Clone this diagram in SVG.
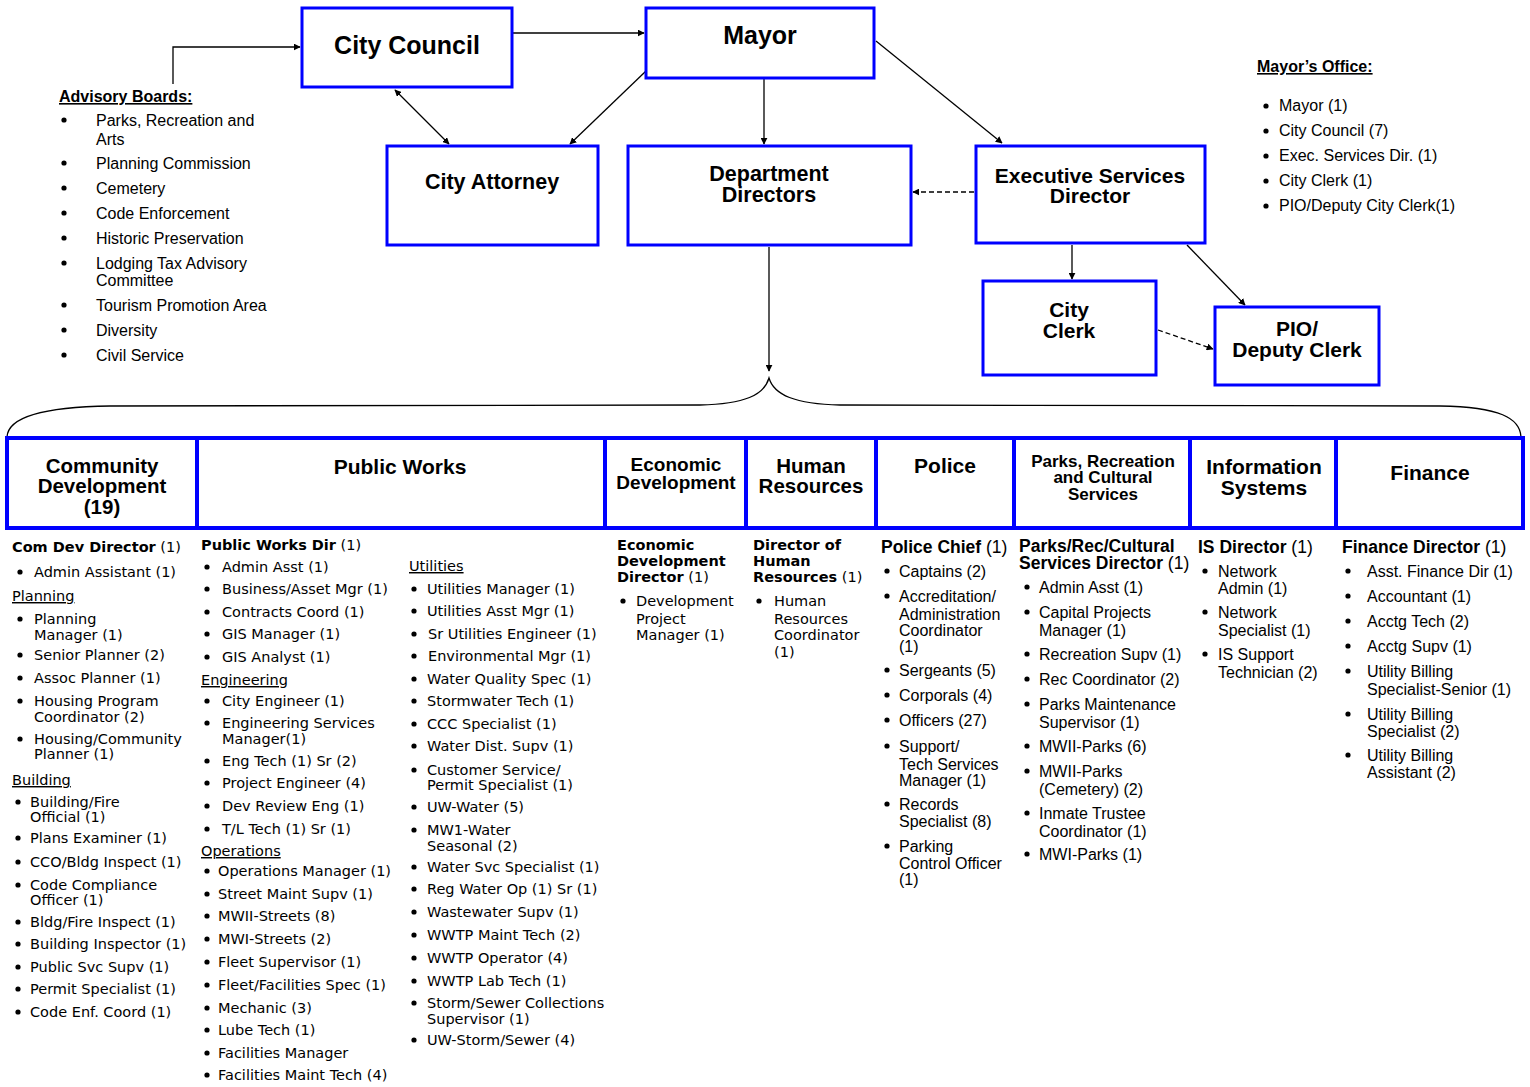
<svg xmlns="http://www.w3.org/2000/svg" width="1530" height="1087" viewBox="0 0 1530 1087">
<defs>
<marker id="ah" viewBox="0 0 10 10" refX="9" refY="5" markerWidth="7" markerHeight="7" orient="auto-start-reverse" markerUnits="userSpaceOnUse"><path d="M0,0 L10,5 L0,10 z" fill="#000"/></marker>
<style>
.box{fill:#fff;stroke:#0000ff;stroke-width:3}
.dept{fill:#fff;stroke:#0000ff;stroke-width:4}
.tb{font-family:"Liberation Sans",Arial,sans-serif;font-weight:bold;fill:#000;text-anchor:middle}
.v{font-family:"DejaVu Sans",Verdana,sans-serif;font-size:14.5px;fill:#000}
.vb{font-family:"DejaVu Sans",Verdana,sans-serif;font-size:14.5px;font-weight:bold;fill:#000}
.t{font-family:"Liberation Sans",Arial,sans-serif;font-size:16px;fill:#000}
.tbh{font-family:"Liberation Sans",Arial,sans-serif;font-size:17.5px;font-weight:bold;fill:#000}
.n{font-weight:normal}
.u{text-decoration:underline}
.bl{fill:#000}
.ln{fill:none;stroke:#000;stroke-width:1.3}
.dash{stroke-dasharray:5,3}
</style>
</defs>

<g id="connectors">
<path class="ln" d="M173,84 V47 H300" marker-end="url(#ah)"/>
<path class="ln" d="M512,33 H644" marker-end="url(#ah)"/>
<path class="ln" d="M395,90 L449,144" marker-start="url(#ah)" marker-end="url(#ah)"/>
<path class="ln" d="M646,71 L570,144" marker-end="url(#ah)"/>
<path class="ln" d="M764,79 V144" marker-end="url(#ah)"/>
<path class="ln" d="M876,41 L1002,143" marker-end="url(#ah)"/>
<path class="ln dash" d="M974,192 H913" marker-end="url(#ah)"/>
<path class="ln" d="M1072,245 V279" marker-end="url(#ah)"/>
<path class="ln" d="M1187,245 L1245,305" marker-end="url(#ah)"/>
<path class="ln dash" d="M1158,330 L1213,349" marker-end="url(#ah)"/>
<path class="ln" d="M769,247 V371" marker-end="url(#ah)"/>
<path class="ln" d="M7,437 C8,418 40,407 110,406 L700,405 C745,404 764,395 769,378 C774,395 795,404 840,405 L1440,406 C1500,407 1520,418 1521,437"/>
</g>

<g id="advisory-boards">
<text class="t u" x="59" y="102" font-weight="bold">Advisory Boards:</text>
<circle class="bl" cx="64" cy="120" r="2.6"/><text class="t" x="96" y="126">Parks, Recreation and</text><text class="t" x="96" y="145">Arts</text>
<circle class="bl" cx="64" cy="163" r="2.6"/><text class="t" x="96" y="169">Planning Commission</text>
<circle class="bl" cx="64" cy="188" r="2.6"/><text class="t" x="96" y="194">Cemetery</text>
<circle class="bl" cx="64" cy="213" r="2.6"/><text class="t" x="96" y="219">Code Enforcement</text>
<circle class="bl" cx="64" cy="238" r="2.6"/><text class="t" x="96" y="244">Historic Preservation</text>
<circle class="bl" cx="64" cy="263" r="2.6"/><text class="t" x="96" y="269">Lodging Tax Advisory</text><text class="t" x="96" y="286">Committee</text>
<circle class="bl" cx="64" cy="305" r="2.6"/><text class="t" x="96" y="311">Tourism Promotion Area</text>
<circle class="bl" cx="64" cy="330" r="2.6"/><text class="t" x="96" y="336">Diversity</text>
<circle class="bl" cx="64" cy="355" r="2.6"/><text class="t" x="96" y="361">Civil Service</text>
</g>

<g id="city-council"><rect class="box" x="302" y="8" width="210" height="79"/><text class="tb" x="407" y="54" font-size="25">City Council</text></g>
<g id="mayor"><rect class="box" x="646" y="8" width="228" height="70"/><text class="tb" x="760" y="44" font-size="25">Mayor</text></g>
<g id="city-attorney"><rect class="box" x="387" y="146" width="211" height="99"/><text class="tb" x="492" y="189" font-size="21.5">City Attorney</text></g>
<g id="department-directors"><rect class="box" x="628" y="146" width="283" height="99"/><text class="tb" x="769" y="181" font-size="21.5">Department</text><text class="tb" x="769" y="202" font-size="21.5">Directors</text></g>
<g id="executive-services-director"><rect class="box" x="976" y="146" width="229" height="97"/><text class="tb" x="1090" y="183" font-size="21">Executive Services</text><text class="tb" x="1090" y="203" font-size="21">Director</text></g>
<g id="city-clerk"><rect class="box" x="983" y="281" width="173" height="94"/><text class="tb" x="1069" y="317" font-size="21">City</text><text class="tb" x="1069" y="338" font-size="21">Clerk</text></g>
<g id="pio-deputy-clerk"><rect class="box" x="1215" y="307" width="164" height="78"/><text class="tb" x="1297" y="336" font-size="21">PIO/</text><text class="tb" x="1297" y="357" font-size="21">Deputy Clerk</text></g>

<g id="mayors-office">
<text class="t u" x="1257" y="72" font-weight="bold">Mayor’s Office:</text>
<circle class="bl" cx="1266" cy="106" r="2.6"/><text class="t" x="1279" y="111">Mayor (1)</text>
<circle class="bl" cx="1266" cy="131" r="2.6"/><text class="t" x="1279" y="136">City Council (7)</text>
<circle class="bl" cx="1266" cy="156" r="2.6"/><text class="t" x="1279" y="161">Exec. Services Dir. (1)</text>
<circle class="bl" cx="1266" cy="181" r="2.6"/><text class="t" x="1279" y="186">City Clerk (1)</text>
<circle class="bl" cx="1266" cy="206" r="2.6"/><text class="t" x="1279" y="211">PIO/Deputy City Clerk(1)</text>
</g>

<g id="departments-row">
<rect class="dept" x="7" y="438" width="1516" height="90"/>
<path fill="none" stroke="#0000ff" stroke-width="4" d="M197,438 V528 M605,438 V528 M746,438 V528 M876,438 V528 M1014,438 V528 M1190,438 V528 M1336,438 V528"/>
</g>

<g id="community-development">
<text class="tb" x="102" y="473" font-size="20.5">Community</text><text class="tb" x="102" y="493" font-size="20.5">Development</text><text class="tb" x="102" y="514" font-size="20.5">(19)</text>
<text class="vb" x="12" y="552">Com Dev Director<tspan class="n"> (1)</tspan></text>
<circle class="bl" cx="20" cy="572" r="2.6"/><text class="v" x="34" y="577">Admin Assistant (1)</text>
<text class="v u" x="12" y="601">Planning</text>
<circle class="bl" cx="20" cy="619" r="2.6"/><text class="v" x="34" y="624">Planning</text><text class="v" x="34" y="640">Manager (1)</text>
<circle class="bl" cx="20" cy="655" r="2.6"/><text class="v" x="34" y="660">Senior Planner (2)</text>
<circle class="bl" cx="20" cy="678" r="2.6"/><text class="v" x="34" y="683">Assoc Planner (1)</text>
<circle class="bl" cx="20" cy="701" r="2.6"/><text class="v" x="34" y="706">Housing Program</text><text class="v" x="34" y="722">Coordinator (2)</text>
<circle class="bl" cx="20" cy="739" r="2.6"/><text class="v" x="34" y="744">Housing/Community</text><text class="v" x="34" y="759">Planner (1)</text>
<text class="v u" x="12" y="785">Building</text>
<circle class="bl" cx="18" cy="802" r="2.6"/><text class="v" x="30" y="807">Building/Fire</text><text class="v" x="30" y="822">Official (1)</text>
<circle class="bl" cx="18" cy="838" r="2.6"/><text class="v" x="30" y="843">Plans Examiner (1)</text>
<circle class="bl" cx="18" cy="862" r="2.6"/><text class="v" x="30" y="867">CCO/Bldg Inspect (1)</text>
<circle class="bl" cx="18" cy="885" r="2.6"/><text class="v" x="30" y="890">Code Compliance</text><text class="v" x="30" y="905">Officer (1)</text>
<circle class="bl" cx="18" cy="922" r="2.6"/><text class="v" x="30" y="927">Bldg/Fire Inspect (1)</text>
<circle class="bl" cx="18" cy="944" r="2.6"/><text class="v" x="30" y="949">Building Inspector (1)</text>
<circle class="bl" cx="18" cy="967" r="2.6"/><text class="v" x="30" y="972">Public Svc Supv (1)</text>
<circle class="bl" cx="18" cy="989" r="2.6"/><text class="v" x="30" y="994">Permit Specialist (1)</text>
<circle class="bl" cx="18" cy="1012" r="2.6"/><text class="v" x="30" y="1017">Code Enf. Coord (1)</text>
</g>

<g id="public-works">
<text class="tb" x="400" y="474" font-size="21">Public Works</text>
<text class="vb" x="201" y="550">Public Works Dir<tspan class="n"> (1)</tspan></text>
<circle class="bl" cx="207" cy="567" r="2.6"/><text class="v" x="222" y="572">Admin Asst (1)</text>
<circle class="bl" cx="207" cy="589" r="2.6"/><text class="v" x="222" y="594">Business/Asset Mgr (1)</text>
<circle class="bl" cx="207" cy="612" r="2.6"/><text class="v" x="222" y="617">Contracts Coord (1)</text>
<circle class="bl" cx="207" cy="634" r="2.6"/><text class="v" x="222" y="639">GIS Manager (1)</text>
<circle class="bl" cx="207" cy="657" r="2.6"/><text class="v" x="222" y="662">GIS Analyst (1)</text>
<text class="v u" x="201" y="685">Engineering</text>
<circle class="bl" cx="207" cy="701" r="2.6"/><text class="v" x="222" y="706">City Engineer (1)</text>
<circle class="bl" cx="207" cy="723" r="2.6"/><text class="v" x="222" y="728">Engineering Services</text><text class="v" x="222" y="744">Manager(1)</text>
<circle class="bl" cx="207" cy="761" r="2.6"/><text class="v" x="222" y="766">Eng Tech (1) Sr (2)</text>
<circle class="bl" cx="207" cy="783" r="2.6"/><text class="v" x="222" y="788">Project Engineer (4)</text>
<circle class="bl" cx="207" cy="806" r="2.6"/><text class="v" x="222" y="811">Dev Review Eng (1)</text>
<circle class="bl" cx="207" cy="829" r="2.6"/><text class="v" x="222" y="834">T/L Tech (1) Sr (1)</text>
<text class="v u" x="201" y="856">Operations</text>
<circle class="bl" cx="207" cy="871" r="2.6"/><text class="v" x="218" y="876">Operations Manager (1)</text>
<circle class="bl" cx="207" cy="894" r="2.6"/><text class="v" x="218" y="899">Street Maint Supv (1)</text>
<circle class="bl" cx="207" cy="916" r="2.6"/><text class="v" x="218" y="921">MWII-Streets (8)</text>
<circle class="bl" cx="207" cy="939" r="2.6"/><text class="v" x="218" y="944">MWI-Streets (2)</text>
<circle class="bl" cx="207" cy="962" r="2.6"/><text class="v" x="218" y="967">Fleet Supervisor (1)</text>
<circle class="bl" cx="207" cy="985" r="2.6"/><text class="v" x="218" y="990">Fleet/Facilities Spec (1)</text>
<circle class="bl" cx="207" cy="1008" r="2.6"/><text class="v" x="218" y="1013">Mechanic (3)</text>
<circle class="bl" cx="207" cy="1030" r="2.6"/><text class="v" x="218" y="1035">Lube Tech (1)</text>
<circle class="bl" cx="207" cy="1053" r="2.6"/><text class="v" x="218" y="1058">Facilities Manager</text>
<circle class="bl" cx="207" cy="1075" r="2.6"/><text class="v" x="218" y="1080">Facilities Maint Tech (4)</text>
<text class="v u" x="409" y="571">Utilities</text>
<circle class="bl" cx="414" cy="589" r="2.6"/><text class="v" x="427" y="594">Utilities Manager (1)</text>
<circle class="bl" cx="414" cy="611" r="2.6"/><text class="v" x="427" y="616">Utilities Asst Mgr (1)</text>
<circle class="bl" cx="414" cy="634" r="2.6"/><text class="v" x="428" y="639">Sr Utilities Engineer (1)</text>
<circle class="bl" cx="414" cy="656" r="2.6"/><text class="v" x="428" y="661">Environmental Mgr (1)</text>
<circle class="bl" cx="414" cy="679" r="2.6"/><text class="v" x="427" y="684">Water Quality Spec (1)</text>
<circle class="bl" cx="414" cy="701" r="2.6"/><text class="v" x="427" y="706">Stormwater Tech (1)</text>
<circle class="bl" cx="414" cy="724" r="2.6"/><text class="v" x="427" y="729">CCC Specialist (1)</text>
<circle class="bl" cx="414" cy="746" r="2.6"/><text class="v" x="427" y="751">Water Dist. Supv (1)</text>
<circle class="bl" cx="414" cy="770" r="2.6"/><text class="v" x="427" y="775">Customer Service/</text><text class="v" x="427" y="790">Permit Specialist (1)</text>
<circle class="bl" cx="414" cy="807" r="2.6"/><text class="v" x="427" y="812">UW-Water (5)</text>
<circle class="bl" cx="414" cy="830" r="2.6"/><text class="v" x="427" y="835">MW1-Water</text><text class="v" x="427" y="851">Seasonal (2)</text>
<circle class="bl" cx="414" cy="867" r="2.6"/><text class="v" x="427" y="872">Water Svc Specialist (1)</text>
<circle class="bl" cx="414" cy="889" r="2.6"/><text class="v" x="427" y="894">Reg Water Op (1) Sr (1)</text>
<circle class="bl" cx="414" cy="912" r="2.6"/><text class="v" x="427" y="917">Wastewater Supv (1)</text>
<circle class="bl" cx="414" cy="935" r="2.6"/><text class="v" x="427" y="940">WWTP Maint Tech (2)</text>
<circle class="bl" cx="414" cy="958" r="2.6"/><text class="v" x="427" y="963">WWTP Operator (4)</text>
<circle class="bl" cx="414" cy="981" r="2.6"/><text class="v" x="427" y="986">WWTP Lab Tech (1)</text>
<circle class="bl" cx="414" cy="1003" r="2.6"/><text class="v" x="427" y="1008">Storm/Sewer Collections</text><text class="v" x="427" y="1024">Supervisor (1)</text>
<circle class="bl" cx="414" cy="1040" r="2.6"/><text class="v" x="427" y="1045">UW-Storm/Sewer (4)</text>
</g>

<g id="economic-development">
<text class="tb" x="676" y="471" font-size="19">Economic</text><text class="tb" x="676" y="489" font-size="19">Development</text>
<text class="vb" x="617" y="550">Economic</text><text class="vb" x="617" y="566">Development</text><text class="vb" x="617" y="582">Director<tspan class="n"> (1)</tspan></text>
<circle class="bl" cx="623" cy="601" r="2.6"/><text class="v" x="636" y="606">Development</text><text class="v" x="636" y="624">Project</text><text class="v" x="636" y="640">Manager (1)</text>
</g>

<g id="human-resources">
<text class="tb" x="811" y="473" font-size="20.5">Human</text><text class="tb" x="811" y="493" font-size="20.5">Resources</text>
<text class="vb" x="753" y="550">Director of</text><text class="vb" x="753" y="566">Human</text><text class="vb" x="753" y="582">Resources<tspan class="n"> (1)</tspan></text>
<circle class="bl" cx="759" cy="601" r="2.6"/><text class="v" x="774" y="606">Human</text><text class="v" x="774" y="624">Resources</text><text class="v" x="774" y="640">Coordinator</text><text class="v" x="774" y="657">(1)</text>
</g>

<g id="police">
<text class="tb" x="945" y="473" font-size="21">Police</text>
<text class="tbh" x="881" y="553">Police Chief<tspan class="n"> (1)</tspan></text>
<circle class="bl" cx="887" cy="571" r="2.6"/><text class="t" x="899" y="577">Captains (2)</text>
<circle class="bl" cx="887" cy="596" r="2.6"/><text class="t" x="899" y="602">Accreditation/</text><text class="t" x="899" y="620">Administration</text><text class="t" x="899" y="636">Coordinator</text><text class="t" x="899" y="652">(1)</text>
<circle class="bl" cx="887" cy="670" r="2.6"/><text class="t" x="899" y="676">Sergeants (5)</text>
<circle class="bl" cx="887" cy="695" r="2.6"/><text class="t" x="899" y="701">Corporals (4)</text>
<circle class="bl" cx="887" cy="720" r="2.6"/><text class="t" x="899" y="726">Officers (27)</text>
<circle class="bl" cx="887" cy="746" r="2.6"/><text class="t" x="899" y="752">Support/</text><text class="t" x="899" y="770">Tech Services</text><text class="t" x="899" y="786">Manager (1)</text>
<circle class="bl" cx="887" cy="804" r="2.6"/><text class="t" x="899" y="810">Records</text><text class="t" x="899" y="827">Specialist (8)</text>
<circle class="bl" cx="887" cy="846" r="2.6"/><text class="t" x="899" y="852">Parking</text><text class="t" x="899" y="869">Control Officer</text><text class="t" x="899" y="885">(1)</text>
</g>

<g id="parks-recreation-cultural-services">
<text class="tb" x="1103" y="467" font-size="17">Parks, Recreation</text><text class="tb" x="1103" y="483" font-size="17">and Cultural</text><text class="tb" x="1103" y="500" font-size="17">Services</text>
<text class="tbh" x="1019" y="552" font-size="16.5">Parks/Rec/Cultural</text><text class="tbh" x="1019" y="569" font-size="16.5">Services Director<tspan class="n"> (1)</tspan></text>
<circle class="bl" cx="1027" cy="587" r="2.6"/><text class="t" x="1039" y="593">Admin Asst (1)</text>
<circle class="bl" cx="1027" cy="612" r="2.6"/><text class="t" x="1039" y="618">Capital Projects</text><text class="t" x="1039" y="636">Manager (1)</text>
<circle class="bl" cx="1027" cy="654" r="2.6"/><text class="t" x="1039" y="660">Recreation Supv (1)</text>
<circle class="bl" cx="1027" cy="679" r="2.6"/><text class="t" x="1039" y="685">Rec Coordinator (2)</text>
<circle class="bl" cx="1027" cy="704" r="2.6"/><text class="t" x="1039" y="710">Parks Maintenance</text><text class="t" x="1039" y="728">Supervisor (1)</text>
<circle class="bl" cx="1027" cy="746" r="2.6"/><text class="t" x="1039" y="752">MWII-Parks (6)</text>
<circle class="bl" cx="1027" cy="771" r="2.6"/><text class="t" x="1039" y="777">MWII-Parks</text><text class="t" x="1039" y="795">(Cemetery) (2)</text>
<circle class="bl" cx="1027" cy="813" r="2.6"/><text class="t" x="1039" y="819">Inmate Trustee</text><text class="t" x="1039" y="837">Coordinator (1)</text>
<circle class="bl" cx="1027" cy="854" r="2.6"/><text class="t" x="1039" y="860">MWI-Parks (1)</text>
</g>

<g id="information-systems">
<text class="tb" x="1264" y="474" font-size="21">Information</text><text class="tb" x="1264" y="495" font-size="21">Systems</text>
<text class="tbh" x="1198" y="553">IS Director<tspan class="n"> (1)</tspan></text>
<circle class="bl" cx="1205" cy="571" r="2.6"/><text class="t" x="1218" y="577">Network</text><text class="t" x="1218" y="594">Admin (1)</text>
<circle class="bl" cx="1205" cy="612" r="2.6"/><text class="t" x="1218" y="618">Network</text><text class="t" x="1218" y="636">Specialist (1)</text>
<circle class="bl" cx="1205" cy="654" r="2.6"/><text class="t" x="1218" y="660">IS Support</text><text class="t" x="1218" y="678">Technician (2)</text>
</g>

<g id="finance">
<text class="tb" x="1430" y="480" font-size="21">Finance</text>
<text class="tbh" x="1342" y="553">Finance Director<tspan class="n"> (1)</tspan></text>
<circle class="bl" cx="1348" cy="571" r="2.6"/><text class="t" x="1367" y="577">Asst. Finance Dir (1)</text>
<circle class="bl" cx="1348" cy="596" r="2.6"/><text class="t" x="1367" y="602">Accountant (1)</text>
<circle class="bl" cx="1348" cy="621" r="2.6"/><text class="t" x="1367" y="627">Acctg Tech (2)</text>
<circle class="bl" cx="1348" cy="646" r="2.6"/><text class="t" x="1367" y="652">Acctg Supv (1)</text>
<circle class="bl" cx="1348" cy="671" r="2.6"/><text class="t" x="1367" y="677">Utility Billing</text><text class="t" x="1367" y="695">Specialist-Senior (1)</text>
<circle class="bl" cx="1348" cy="714" r="2.6"/><text class="t" x="1367" y="720">Utility Billing</text><text class="t" x="1367" y="737">Specialist (2)</text>
<circle class="bl" cx="1348" cy="755" r="2.6"/><text class="t" x="1367" y="761">Utility Billing</text><text class="t" x="1367" y="778">Assistant (2)</text>
</g>
</svg>
